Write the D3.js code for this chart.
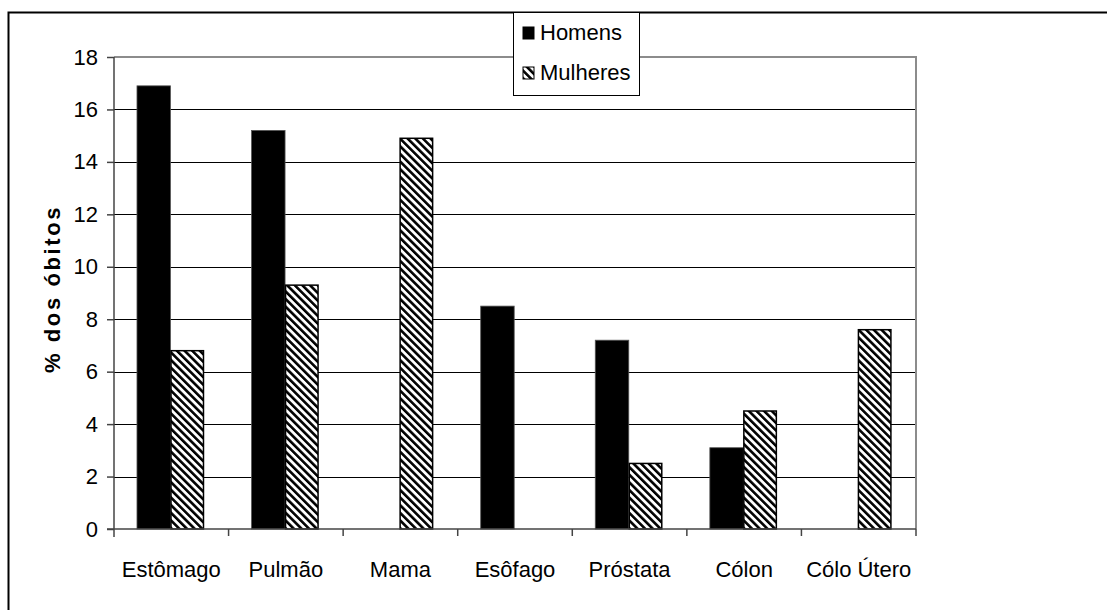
<!DOCTYPE html>
<html><head><meta charset="utf-8">
<script src="https://cdn.jsdelivr.net/npm/d3@7"></script>
<style>
html,body{margin:0;padding:0;background:#fff;}
svg{display:block;font-family:"Liberation Sans",Arial,sans-serif;}
</style></head>
<body>
<script>
const categories = ["Estômago","Pulmão","Mama","Esôfago","Próstata","Cólon","Cólo Útero"];
const homens   = [16.9, 15.2, 0, 8.5, 7.2, 3.1, 0];
const mulheres = [6.8, 9.3, 14.9, 0, 2.5, 4.5, 7.6];
const seriesNames = ["Homens","Mulheres"];
const yTicks = [0,2,4,6,8,10,12,14,16,18];
const yTitle = "% dos óbitos";

(function(){
const W = 1107, H = 610;
const svg = d3.select("body").append("svg").attr("width", W).attr("height", H);

const defs = svg.append("defs");
const pat = defs.append("pattern").attr("id","hatch").attr("patternUnits","userSpaceOnUse")
  .attr("width",5.4).attr("height",5.4).attr("patternTransform","rotate(-45)");
pat.append("rect").attr("width",5.4).attr("height",5.4).attr("fill","#fff");
pat.append("rect").attr("width",2.6).attr("height",5.4).attr("fill","#000");

// outer border
svg.append("rect").attr("x",8.5).attr("y",12.5).attr("width",1200).attr("height",800)
  .attr("fill","none").attr("stroke","#000").attr("stroke-width",2);

const pL = 114, pR = 916, pT = 57, pB = 529;
const x = d3.scaleBand().domain(categories).range([pL,pR]).paddingInner(0).paddingOuter(0);
const y = d3.scaleLinear().domain([0,18]).range([pB,pT]);
const barW = 33.5;

// gridlines
svg.append("g").selectAll("line").data(yTicks.filter(d=>d>0 && d<18)).join("line")
  .attr("x1",pL).attr("x2",pR).attr("y1",d=>Math.round(y(d))+0.5).attr("y2",d=>Math.round(y(d))+0.5)
  .attr("stroke","#000").attr("stroke-width",1);

// plot border top/right
svg.append("path").attr("d",`M${pL},${pT}H${pR}V${pB}`).attr("fill","none")
  .attr("stroke","#8c8c8c").attr("stroke-width",2);

// bars
const g = svg.append("g");
categories.forEach((c,i)=>{
  const cx = x(c) + x.bandwidth()/2 - 0.8;
  if (homens[i] > 0) {
    g.append("rect").attr("x",cx-barW).attr("y",y(homens[i])).attr("width",barW)
      .attr("height",y(0)-y(homens[i])).attr("fill","#000").attr("stroke","#555").attr("stroke-width",0.8);
  }
  if (mulheres[i] > 0) {
    g.append("rect").attr("x",cx+0.5).attr("y",y(mulheres[i])).attr("width",barW-1)
      .attr("height",y(0)-y(mulheres[i])).attr("fill","url(#hatch)").attr("stroke","#000").attr("stroke-width",1.5);
  }
});

// y axis
const yAxis = d3.axisLeft(y).tickValues(yTicks).tickSize(7).tickPadding(9).tickFormat(d3.format("d"));
const ya = svg.append("g").attr("transform",`translate(${pL},0)`).call(yAxis);
ya.select(".domain").attr("stroke","#444").attr("stroke-width",1.5).attr("d",`M0,${pT}V${pB+8}`);
ya.selectAll(".tick line").attr("stroke","#444").attr("stroke-width",1.5);
ya.selectAll("text").attr("font-size",22).attr("fill","#000").attr("font-family","Liberation Sans, Arial, sans-serif");

// x axis
const xa = svg.append("g").attr("transform",`translate(0,${pB})`);
xa.append("line").attr("x1",pL-7).attr("x2",pR).attr("y1",0).attr("y2",0).attr("stroke","#444").attr("stroke-width",1.5);
const bounds = categories.map(c=>x(c)).concat([pR]);
xa.selectAll("line.tk").data(bounds.slice(1)).join("line").attr("class","tk")
  .attr("x1",d=>d).attr("x2",d=>d).attr("y1",0).attr("y2",7).attr("stroke","#444").attr("stroke-width",1.5);
xa.selectAll("text").data(categories).join("text")
  .attr("x",c=>x(c)+x.bandwidth()/2).attr("y",48).attr("text-anchor","middle")
  .attr("font-size",22).attr("fill","#000").text(c=>c);

// y title
svg.append("text").attr("transform",`translate(60,289) rotate(-90)`).attr("text-anchor","middle")
  .attr("font-size",22).attr("font-weight","bold").attr("letter-spacing",2.6).attr("fill","#000").text(yTitle);

// legend
const lg = svg.append("g");
lg.append("rect").attr("x",513.5).attr("y",12.5).attr("width",126).attr("height",83)
  .attr("fill","#fff").attr("stroke","#000").attr("stroke-width",1);
seriesNames.forEach((s,i)=>{
  const yy = 40 + i*40;
  lg.append("rect").attr("x",523).attr("y",yy-13).attr("width",11).attr("height",12)
    .attr("fill", i===0 ? "#000" : "url(#hatch)").attr("stroke","#000").attr("stroke-width",1);
  lg.append("text").attr("x",540).attr("y",yy).attr("font-size",22).attr("fill","#000").text(s);
});
})();
</script>
</body></html>
